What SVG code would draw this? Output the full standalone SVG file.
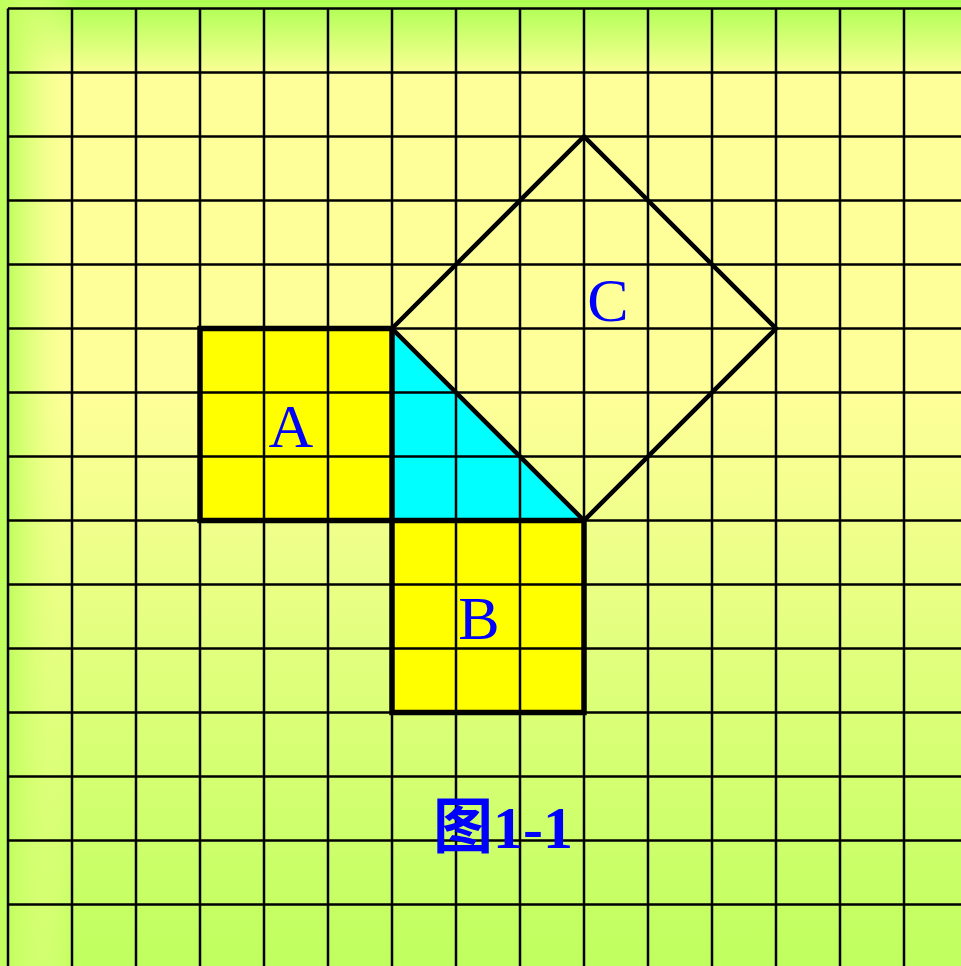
<svg xmlns="http://www.w3.org/2000/svg" width="961" height="966" viewBox="0 0 961 966">
<style>
.grid line{stroke:#000;stroke-width:2.5}
.thick{stroke:#000;stroke-width:5.5;stroke-linejoin:miter;fill:none}
.lbl{font-family:"Liberation Serif","Times New Roman",serif;font-size:62px;fill:#0000ff;text-anchor:middle}
.title{font-family:"Liberation Serif","Noto Sans CJK SC",serif;font-size:60px;font-weight:bold;fill:#0000ff}
</style>
<defs>
<linearGradient id="bgv" x1="0" y1="0" x2="0" y2="1">
<stop offset="0" stop-color="#aaff50"/>
<stop offset="0.08" stop-color="#ffff99"/>
<stop offset="0.4" stop-color="#ffff99"/>
<stop offset="1" stop-color="#bfff5e"/>
</linearGradient>
<linearGradient id="bgh" x1="0" y1="0" x2="1" y2="0">
<stop offset="0" stop-color="#bfff5e" stop-opacity="1"/>
<stop offset="0.012" stop-color="#c4ff62" stop-opacity="1"/>
<stop offset="0.08" stop-color="#ffff99" stop-opacity="0"/>
<stop offset="1" stop-color="#ffff99" stop-opacity="0"/>
</linearGradient>
</defs>
<rect id="background" x="0" y="0" width="961" height="966" fill="url(#bgv)"/>
<rect x="0" y="0" width="961" height="966" fill="url(#bgh)"/>
<g id="squareA"><rect x="200" y="328.5" width="192" height="192" fill="#ffff00"/></g>
<g id="squareB"><rect x="392" y="520.5" width="192" height="192" fill="#ffff00"/></g>
<g id="triangle"><polygon points="392,328.5 392,520.5 584,520.5" fill="#00ffff"/></g>
<g class="grid" id="grid">
<line x1="8" y1="8.5" x2="8" y2="966"/>
<line x1="72" y1="8.5" x2="72" y2="966"/>
<line x1="136" y1="8.5" x2="136" y2="966"/>
<line x1="200" y1="8.5" x2="200" y2="966"/>
<line x1="264" y1="8.5" x2="264" y2="966"/>
<line x1="328" y1="8.5" x2="328" y2="966"/>
<line x1="392" y1="8.5" x2="392" y2="966"/>
<line x1="456" y1="8.5" x2="456" y2="966"/>
<line x1="520" y1="8.5" x2="520" y2="966"/>
<line x1="584" y1="8.5" x2="584" y2="966"/>
<line x1="648" y1="8.5" x2="648" y2="966"/>
<line x1="712" y1="8.5" x2="712" y2="966"/>
<line x1="776" y1="8.5" x2="776" y2="966"/>
<line x1="840" y1="8.5" x2="840" y2="966"/>
<line x1="904" y1="8.5" x2="904" y2="966"/>
<line x1="8" y1="8.5" x2="961" y2="8.5"/>
<line x1="8" y1="72.5" x2="961" y2="72.5"/>
<line x1="8" y1="136.5" x2="961" y2="136.5"/>
<line x1="8" y1="200.5" x2="961" y2="200.5"/>
<line x1="8" y1="264.5" x2="961" y2="264.5"/>
<line x1="8" y1="328.5" x2="961" y2="328.5"/>
<line x1="8" y1="392.5" x2="961" y2="392.5"/>
<line x1="8" y1="456.5" x2="961" y2="456.5"/>
<line x1="8" y1="520.5" x2="961" y2="520.5"/>
<line x1="8" y1="584.5" x2="961" y2="584.5"/>
<line x1="8" y1="648.5" x2="961" y2="648.5"/>
<line x1="8" y1="712.5" x2="961" y2="712.5"/>
<line x1="8" y1="776.5" x2="961" y2="776.5"/>
<line x1="8" y1="840.5" x2="961" y2="840.5"/>
<line x1="8" y1="904.5" x2="961" y2="904.5"/>
</g>
<g id="outlines">
<rect class="thick" x="200" y="328.5" width="192" height="192"/>
<rect class="thick" x="392" y="520.5" width="192" height="192"/>
<polygon class="thick" style="stroke-width:4.5" points="392,328.5 584,136.5 776,328.5 584,520.5"/>
</g>
<g id="labels">
<text class="lbl" x="291" y="447">A</text>
<text class="lbl" x="479" y="639">B</text>
<text class="lbl" x="608" y="321">C</text>
<text class="title" x="433" y="848">图1-1</text>
</g>
</svg>
